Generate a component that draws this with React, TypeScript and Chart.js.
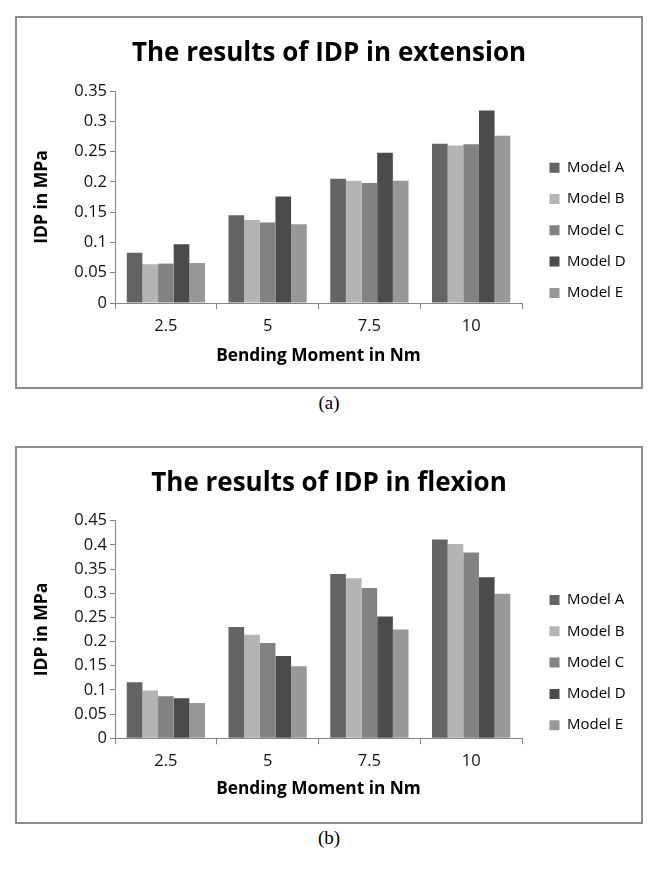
import React, { useEffect, useRef } from 'react';
import { Chart, registerables } from 'chart.js';

Chart.register(...registerables);

// ---------- data ----------
const categories = ['2.5', '5', '7.5', '10'];
const seriesNames = ['Model A', 'Model B', 'Model C', 'Model D', 'Model E'];
const seriesColors = ['#646464', '#b4b4b4', '#828282', '#4b4b4b', '#989898'];

const extensionA = [0.083, 0.145, 0.205, 0.263];
const extensionB = [0.064, 0.137, 0.202, 0.26];
const extensionC = [0.065, 0.133, 0.198, 0.262];
const extensionD = [0.097, 0.176, 0.248, 0.318];
const extensionE = [0.066, 0.13, 0.202, 0.276];

const flexionA = [0.116, 0.23, 0.34, 0.411];
const flexionB = [0.099, 0.214, 0.331, 0.402];
const flexionC = [0.087, 0.197, 0.311, 0.384];
const flexionD = [0.083, 0.17, 0.252, 0.333];
const flexionE = [0.073, 0.149, 0.225, 0.299];

const extensionYMax = 0.35;
const flexionYMax = 0.45;
const yStep = 0.05;

const titleExtension = 'The results of IDP in extension';
const titleFlexion = 'The results of IDP in flexion';
const xAxisTitle = 'Bending Moment in Nm';
const yAxisTitle = 'IDP in MPa';

// ---------- helpers ----------
const FONT = "'Open Sans', 'Noto Sans', sans-serif";

const boxPlacer = {
  id: 'boxPlacer',
  afterLayout(chart: any, _args: any, opts: any) {
    const lg = chart.legend;
    if (lg && opts && opts.x != null) {
      const w = lg.width;
      const h = lg.height;
      lg.left = opts.x;
      lg.right = opts.x + w;
      lg.top = opts.y;
      lg.bottom = opts.y + h;
    }
    const tb = chart.titleBlock;
    if (tb) {
      tb.left = 0;
      tb.right = chart.width;
      tb.width = chart.width;
    }
  },
};

type Geo = {
  canvasW: number;
  canvasH: number;
  chartLeft: number;
  chartRight: number;
  chartTop: number;
  chartBottom: number;
  xTitlePadBottom: number;
  legendX: number;
  legendFirstRow: number;
};

function BarPanel(props: { title: string; series: number[][]; yMax: number; geo: Geo }) {
  const ref = useRef<HTMLCanvasElement>(null);
  useEffect(() => {
    const { title, series, yMax, geo } = props;
    if (!ref.current) return;
    const legendPad = 16.3;
    const legendFont = 15;
    const titleLH = 26 * 1.2;
    const chart = new Chart(ref.current, {
      type: 'bar',
      data: {
        labels: categories,
        datasets: series.map((vals, i) => ({
          label: seriesNames[i],
          data: vals,
          backgroundColor: seriesColors[i],
          borderWidth: 0,
          categoryPercentage: 5 / 6.5,
          barPercentage: 1,
        })),
      },
      options: {
        responsive: false,
        animation: false,
        devicePixelRatio: 1,
        layout: {
          padding: { left: 0, top: 0, bottom: 0, right: geo.canvasW - geo.chartRight },
        },
        scales: {
          x: {
            grid: {
              display: true,
              drawOnChartArea: false,
              drawTicks: true,
              tickLength: 6,
              color: '#868686',
              offset: true,
            },
            border: { display: true, color: '#868686', width: 1 },
            ticks: {
              color: '#111',
              font: { family: FONT, size: 16.5 },
              padding: 7.5,
              maxRotation: 0,
            },
            title: {
              display: true,
              text: xAxisTitle,
              color: '#000',
              font: { family: FONT, size: 17.3, weight: 'bold' },
              padding: { top: 0, bottom: geo.xTitlePadBottom },
            },
            afterFit: (scale: any) => {
              scale.height = geo.canvasH - geo.chartBottom;
            },
          },
          y: {
            min: 0,
            max: yMax,
            grid: {
              display: true,
              drawOnChartArea: false,
              drawTicks: true,
              tickLength: 5,
              color: '#868686',
            },
            border: { display: true, color: '#868686', width: 1 },
            ticks: {
              stepSize: yStep,
              color: '#111',
              font: { family: FONT, size: 16.5 },
              padding: 3,
              callback: (v: any) => String(Math.round(Number(v) * 100) / 100),
            },
            title: {
              display: true,
              text: yAxisTitle,
              color: '#000',
              font: { family: FONT, size: 17.5, weight: 'bold' },
              padding: { top: 15, bottom: 0 },
            },
            afterFit: (scale: any) => {
              scale.width = geo.chartLeft;
            },
          },
        },
        plugins: {
          title: {
            display: true,
            text: title,
            color: '#000',
            align: 'center',
            font: { family: FONT, size: 26, weight: 'bold' },
            padding: { top: 20, bottom: geo.chartTop - 20 - titleLH },
          },
          legend: {
            display: true,
            position: 'chartArea',
            align: 'start',
            labels: {
              boxWidth: 10,
              boxHeight: 10,
              padding: legendPad,
              color: '#000',
              font: { family: FONT, size: legendFont },
            },
          },
          tooltip: { enabled: false },
          boxPlacer: {
            x: geo.legendX - legendPad,
            y: geo.legendFirstRow - legendFont / 2 - legendPad,
          },
        } as any,
      },
      plugins: [boxPlacer as any],
    } as any);
    let alive = true;
    if ((document as any).fonts && (document as any).fonts.ready) {
      (document as any).fonts.ready.then(() => {
        if (alive) chart.update();
      });
    }
    return () => {
      alive = false;
      chart.destroy();
    };
  }, []);
  return (
    <canvas
      ref={ref}
      width={props.geo.canvasW}
      height={props.geo.canvasH}
      style={{ display: 'block', width: props.geo.canvasW, height: props.geo.canvasH }}
    />
  );
}

const geoA: Geo = {
  canvasW: 624,
  canvasH: 369,
  chartLeft: 98,
  chartRight: 505,
  chartTop: 73,
  chartBottom: 285,
  xTitlePadBottom: 20.3,
  legendX: 532.5,
  legendFirstRow: 149.7,
};

const geoB: Geo = {
  canvasW: 624,
  canvasH: 374,
  chartLeft: 98,
  chartRight: 505,
  chartTop: 72.7,
  chartBottom: 290.3,
  xTitlePadBottom: 22.8,
  legendX: 532.5,
  legendFirstRow: 152,
};

const boxStyle = (top: number, height: number): React.CSSProperties => ({
  position: 'absolute',
  left: 15,
  top,
  width: 628,
  height,
  boxSizing: 'border-box',
  border: '2px solid #8d8d8d',
  background: '#fff',
});

const captionStyle = (top: number): React.CSSProperties => ({
  position: 'absolute',
  left: 0,
  top,
  width: 658,
  textAlign: 'center',
  fontFamily: "'Liberation Serif', 'Times New Roman', serif",
  fontSize: 19,
  lineHeight: '20px',
  color: '#000',
});

export default function App() {
  return (
    <div
      style={{
        position: 'absolute',
        left: 0,
        top: 0,
        width: 656,
        height: 882,
        background: '#fff',
        overflow: 'hidden',
      }}
    >
      <div style={boxStyle(16, 373)}>
        <BarPanel
          title={titleExtension}
          series={[extensionA, extensionB, extensionC, extensionD, extensionE]}
          yMax={extensionYMax}
          geo={geoA}
        />
      </div>
      <div style={captionStyle(393.4)}>(a)</div>
      <div style={boxStyle(446, 378)}>
        <BarPanel
          title={titleFlexion}
          series={[flexionA, flexionB, flexionC, flexionD, flexionE]}
          yMax={flexionYMax}
          geo={geoB}
        />
      </div>
      <div style={captionStyle(828.4)}>(b)</div>
    </div>
  );
}
